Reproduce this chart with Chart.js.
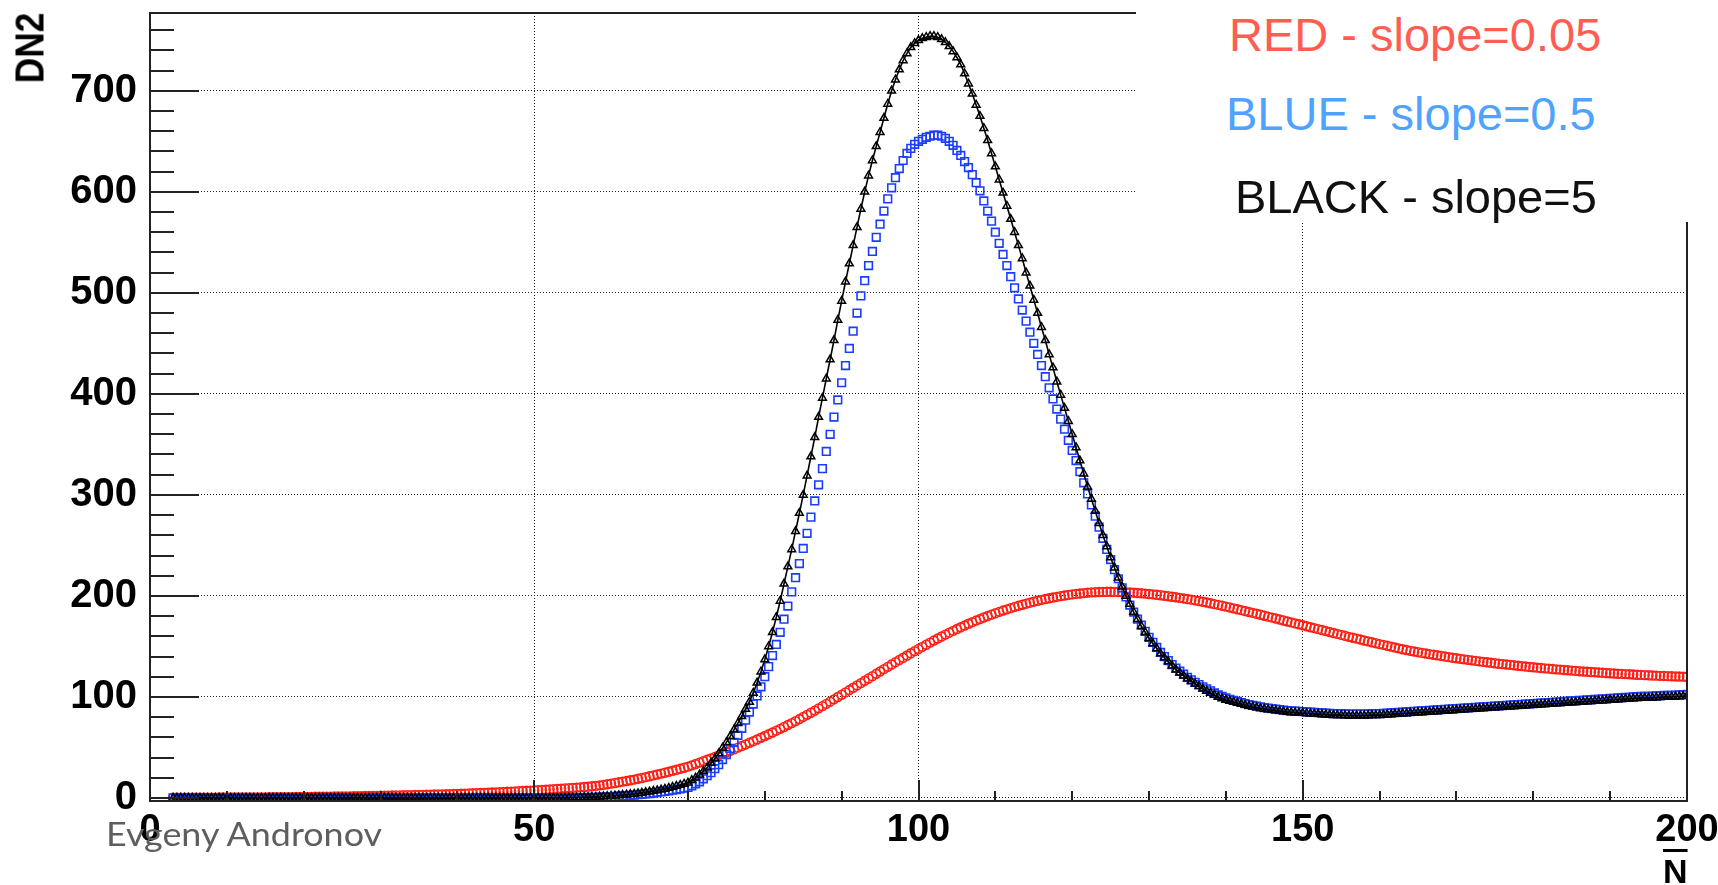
<!DOCTYPE html>
<html>
<head>
<meta charset="utf-8">
<title>DN2 vs N</title>
<script src="https://cdn.jsdelivr.net/npm/chart.js@4.4.1/dist/chart.umd.min.js"></script>
<style>
  html, body { margin: 0; padding: 0; background: #fff; }
  #wrap { position: relative; width: 1718px; height: 885px; overflow: hidden; }
  #chart { position: absolute; left: 0; top: 0; }
  .txt { position: absolute; white-space: nowrap; line-height: 1; font-family: 'Liberation Sans', Arial, sans-serif; }
  #yTitle { left: 30px; top: 47.5px; font-size: 41px; font-weight: bold; color: #000;
            transform: translate(-50%, -50%) rotate(-90deg) scaleX(0.86); }
  #xTitle { font-size: 34px; font-weight: bold; color: #000;
            text-decoration: overline; text-decoration-thickness: 3px; }
  #author { font-family: 'Lato', 'Open Sans', sans-serif; font-weight: 400; font-size: 32px; color: #5e5e5e; }
  #legendBox { position: absolute; left: 1136px; top: 0; width: 582px; height: 222px; background: #fff; }
  .leg { font-size: 47px; }
</style>
</head>
<body>
<div id="wrap">
  <canvas id="chart" width="1718" height="885"></canvas>
  <div id="yTitle" class="txt">DN2</div>
  <div id="xTitle" class="txt">N</div>
  <div id="author" class="txt">Evgeny Andronov</div>
  <div id="legendBox">
    <div id="legRed" class="txt leg" style="color:#ff5c52">RED - slope=0.05</div>
    <div id="legBlue" class="txt leg" style="color:#4fa3ff">BLUE - slope=0.5</div>
    <div id="legBlack" class="txt leg" style="color:#111">BLACK - slope=5</div>
  </div>
</div>
<script>
// N values, one row per 5 units
const nValues = [
  3, 3.5, 4, 4.5, 5, 5.5, 6, 6.5, 7, 7.5,
  8, 8.5, 9, 9.5, 10, 10.5, 11, 11.5, 12, 12.5,
  13, 13.5, 14, 14.5, 15, 15.5, 16, 16.5, 17, 17.5,
  18, 18.5, 19, 19.5, 20, 20.5, 21, 21.5, 22, 22.5,
  23, 23.5, 24, 24.5, 25, 25.5, 26, 26.5, 27, 27.5,
  28, 28.5, 29, 29.5, 30, 30.5, 31, 31.5, 32, 32.5,
  33, 33.5, 34, 34.5, 35, 35.5, 36, 36.5, 37, 37.5,
  38, 38.5, 39, 39.5, 40, 40.5, 41, 41.5, 42, 42.5,
  43, 43.5, 44, 44.5, 45, 45.5, 46, 46.5, 47, 47.5,
  48, 48.5, 49, 49.5, 50, 50.5, 51, 51.5, 52, 52.5,
  53, 53.5, 54, 54.5, 55, 55.5, 56, 56.5, 57, 57.5,
  58, 58.5, 59, 59.5, 60, 60.5, 61, 61.5, 62, 62.5,
  63, 63.5, 64, 64.5, 65, 65.5, 66, 66.5, 67, 67.5,
  68, 68.5, 69, 69.5, 70, 70.5, 71, 71.5, 72, 72.5,
  73, 73.5, 74, 74.5, 75, 75.5, 76, 76.5, 77, 77.5,
  78, 78.5, 79, 79.5, 80, 80.5, 81, 81.5, 82, 82.5,
  83, 83.5, 84, 84.5, 85, 85.5, 86, 86.5, 87, 87.5,
  88, 88.5, 89, 89.5, 90, 90.5, 91, 91.5, 92, 92.5,
  93, 93.5, 94, 94.5, 95, 95.5, 96, 96.5, 97, 97.5,
  98, 98.5, 99, 99.5, 100, 100.5, 101, 101.5, 102, 102.5,
  103, 103.5, 104, 104.5, 105, 105.5, 106, 106.5, 107, 107.5,
  108, 108.5, 109, 109.5, 110, 110.5, 111, 111.5, 112, 112.5,
  113, 113.5, 114, 114.5, 115, 115.5, 116, 116.5, 117, 117.5,
  118, 118.5, 119, 119.5, 120, 120.5, 121, 121.5, 122, 122.5,
  123, 123.5, 124, 124.5, 125, 125.5, 126, 126.5, 127, 127.5,
  128, 128.5, 129, 129.5, 130, 130.5, 131, 131.5, 132, 132.5,
  133, 133.5, 134, 134.5, 135, 135.5, 136, 136.5, 137, 137.5,
  138, 138.5, 139, 139.5, 140, 140.5, 141, 141.5, 142, 142.5,
  143, 143.5, 144, 144.5, 145, 145.5, 146, 146.5, 147, 147.5,
  148, 148.5, 149, 149.5, 150, 150.5, 151, 151.5, 152, 152.5,
  153, 153.5, 154, 154.5, 155, 155.5, 156, 156.5, 157, 157.5,
  158, 158.5, 159, 159.5, 160, 160.5, 161, 161.5, 162, 162.5,
  163, 163.5, 164, 164.5, 165, 165.5, 166, 166.5, 167, 167.5,
  168, 168.5, 169, 169.5, 170, 170.5, 171, 171.5, 172, 172.5,
  173, 173.5, 174, 174.5, 175, 175.5, 176, 176.5, 177, 177.5,
  178, 178.5, 179, 179.5, 180, 180.5, 181, 181.5, 182, 182.5,
  183, 183.5, 184, 184.5, 185, 185.5, 186, 186.5, 187, 187.5,
  188, 188.5, 189, 189.5, 190, 190.5, 191, 191.5, 192, 192.5,
  193, 193.5, 194, 194.5, 195, 195.5, 196, 196.5, 197, 197.5,
  198, 198.5, 199, 199.5, 200
];

// RED - slope=0.05
const redValues = [
  0.2, 0.2, 0.2, 0.22, 0.25, 0.28, 0.3, 0.3, 0.3, 0.33,
  0.35, 0.38, 0.4, 0.4, 0.4, 0.43, 0.45, 0.48, 0.5, 0.5,
  0.5, 0.53, 0.55, 0.58, 0.6, 0.65, 0.7, 0.73, 0.75, 0.78,
  0.8, 0.85, 0.9, 0.95, 1.0, 1.05, 1.1, 1.15, 1.2, 1.25,
  1.3, 1.35, 1.4, 1.45, 1.5, 1.55, 1.6, 1.68, 1.75, 1.82,
  1.9, 1.98, 2.05, 2.12, 2.2, 2.28, 2.35, 2.42, 2.5, 2.58,
  2.65, 2.72, 2.8, 2.9, 3.0, 3.1, 3.2, 3.3, 3.4, 3.5,
  3.6, 3.7, 3.8, 3.9, 4.0, 4.15, 4.3, 4.45, 4.6, 4.75,
  4.9, 5.05, 5.2, 5.35, 5.5, 5.7, 5.9, 6.1, 6.3, 6.5,
  6.7, 6.9, 7.1, 7.3, 7.5, 7.75, 8.0, 8.25, 8.5, 8.75,
  9.0, 9.25, 9.5, 9.75, 10.0, 10.25, 10.5, 10.85, 11.2, 11.6,
  12.0, 12.5, 13.0, 13.6, 14.2, 14.85, 15.5, 16.15, 16.8, 17.5,
  18.2, 19.0, 19.8, 20.65, 21.5, 22.35, 23.2, 24.1, 25.0, 25.95,
  26.9, 27.9, 28.9, 29.95, 31, 32.3, 33.6, 35, 36.4, 37.8,
  39.2, 40.7, 42.2, 43.7, 45.2, 46.7, 48.2, 49.8, 51.4, 53,
  54.6, 56.2, 57.9, 59.6, 61.3, 63, 64.8, 66.6, 68.4, 70.3,
  72.2, 74.1, 76.1, 78.1, 80.2, 82.3, 84.4, 86.5, 88.7, 90.9,
  93.1, 95.3, 97.6, 99.9, 102.2, 104.5, 106.8, 109.1, 111.4, 113.7,
  116, 118.3, 120.6, 122.9, 125.2, 127.5, 129.8, 132.1, 134.4, 136.6,
  138.8, 141, 143.2, 145.4, 147.5, 149.6, 151.7, 153.8, 155.8, 157.8,
  159.8, 161.7, 163.6, 165.4, 167.2, 169, 170.7, 172.4, 174, 175.6,
  177.1, 178.6, 180.1, 181.5, 182.9, 184.2, 185.5, 186.7, 187.9, 189.1,
  190.2, 191.3, 192.3, 193.3, 194.3, 195.2, 196.1, 196.9, 197.7, 198.4,
  199.1, 199.8, 200.4, 201, 201.5, 202, 202.4, 202.8, 203.2, 203.5,
  203.7, 203.9, 204, 204.1, 204.1, 204, 203.9, 203.7, 203.5, 203.4,
  203.2, 202.9, 202.6, 202.3, 201.9, 201.5, 201.1, 200.7, 200.2, 199.7,
  199.2, 198.7, 198.1, 197.5, 196.9, 196.3, 195.6, 194.9, 194.2, 193.5,
  192.7, 191.9, 191.1, 190.3, 189.4, 188.6, 187.7, 186.8, 185.9, 185,
  184.1, 183.2, 182.3, 181.4, 180.4, 179.5, 178.5, 177.6, 176.6, 175.7,
  174.7, 173.8, 172.8, 171.9, 170.9, 170, 169, 168.1, 167.1, 166.2,
  165.2, 164.3, 163.3, 162.4, 161.4, 160.5, 159.5, 158.6, 157.7, 156.8,
  155.9, 155, 154.1, 153.2, 152.3, 151.5, 150.6, 149.8, 148.9, 148.1,
  147.2, 146.4, 145.6, 145, 144.3, 143.6, 143, 142.4, 141.8, 141.2,
  140.6, 140, 139.4, 138.8, 138.3, 137.7, 137.2, 136.7, 136.2, 135.7,
  135.2, 134.7, 134.3, 133.8, 133.4, 132.9, 132.5, 132.1, 131.7, 131.3,
  130.9, 130.5, 130.1, 129.7, 129.4, 129, 128.7, 128.3, 128, 127.6,
  127.3, 127, 126.7, 126.4, 126.1, 125.8, 125.5, 125.2, 125, 124.7,
  124.5, 124.2, 124, 123.7, 123.5, 123.2, 123, 122.8, 122.6, 122.4,
  122.2, 122, 121.8, 121.6, 121.4, 121.2, 121.1, 120.9, 120.8, 120.6,
  120.5, 120.3, 120.2, 120.1, 120
];

// BLUE - slope=0.5
const blueValues = [
  0, 0, 0, 0, 0, 0, 0, 0, 0, 0,
  0, 0, 0, 0, 0, 0, 0, 0, 0, 0,
  0, 0, 0, 0, 0, 0, 0, 0, 0, 0,
  0, 0, 0, 0, 0, 0, 0, 0, 0, 0,
  0, 0, 0, 0, 0, 0, 0, 0, 0, 0,
  0, 0, 0, 0, 0, 0, 0, 0, 0, 0,
  0, 0, 0, 0, 0, 0, 0, 0, 0, 0,
  0, 0, 0, 0, 0, 0, 0, 0, 0, 0,
  0, 0, 0, 0, 0, 0, 0, 0, 0, 0,
  0, 0, 0, 0, 0, 0, 0, 0, 0, 0,
  0, 0, 0, 0, 0, 0.15, 0.3, 0.4, 0.5, 0.6,
  0.7, 0.85, 1.0, 1.15, 1.3, 1.55, 1.8, 2.05, 2.3, 2.6,
  2.9, 3.25, 3.6, 4.0, 4.4, 4.9, 5.4, 5.95, 6.5, 7.1,
  7.7, 8.35, 9.0, 9.75, 10.5, 12, 14, 16, 19, 22,
  25, 29, 33, 38, 43, 49, 55, 62, 69, 77,
  85, 93, 101, 110, 120, 130, 141, 152, 164, 177,
  190, 204, 218, 232, 247, 262, 278, 294, 310, 326,
  343, 360, 377, 394, 411, 428, 445, 462, 480, 497,
  512, 527, 541, 555, 568, 581, 593, 604, 614, 623,
  631, 638, 643, 647, 650, 652, 654, 655, 656, 656,
  655, 653, 650, 646, 641, 636, 630, 624, 617, 609,
  601, 591, 581, 571, 560, 549, 538, 527, 516, 505,
  494, 483, 472, 461, 450, 439, 428, 417, 406, 395,
  385, 375, 365, 354, 344, 334, 323, 312, 301, 290,
  279, 268, 257, 246, 236, 226, 217, 208, 199, 191,
  184, 177, 171, 165, 159, 154, 149, 144, 140, 136,
  132, 128.5, 125.5, 122.5, 119.5, 117, 114.5, 112.2, 110, 108,
  106, 104, 102, 100.5, 99, 97.7, 96.5, 95.5, 94.5, 93.5,
  92.5, 91.7, 91, 90.2, 89.5, 89, 88.5, 88, 87.5, 87,
  86.5, 86.2, 86, 85.7, 85.5, 85.2, 85, 84.7, 84.5, 84.2,
  84, 83.7, 83.5, 83.5, 83.5, 83.2, 83, 83, 83, 83,
  83, 83.2, 83.5, 83.5, 83.5, 83.7, 84, 84.2, 84.5, 84.7,
  85, 85.2, 85.5, 85.7, 86, 86.2, 86.5, 86.7, 87, 87.2,
  87.5, 87.7, 88, 88.2, 88.5, 88.7, 89, 89.2, 89.5, 89.7,
  90, 90.2, 90.5, 90.7, 91, 91.2, 91.5, 91.7, 92, 92.2,
  92.5, 92.7, 93, 93.2, 93.5, 93.7, 94, 94.2, 94.5, 94.7,
  95, 95.2, 95.5, 95.7, 96, 96.2, 96.5, 96.7, 97, 97.2,
  97.5, 97.7, 98, 98.2, 98.5, 98.7, 99, 99.2, 99.5, 99.7,
  100, 100.2, 100.5, 100.5, 100.5, 100.7, 101, 101.2, 101.5, 101.5,
  101.5, 101.7, 102, 102.2, 102.5
];

// BLACK - slope=5
const blackValues = [
  0, 0, 0, 0, 0, 0, 0, 0, 0, 0,
  0, 0, 0, 0, 0, 0, 0, 0, 0, 0,
  0, 0, 0, 0, 0, 0, 0, 0, 0, 0,
  0, 0, 0, 0, 0, 0, 0, 0, 0, 0,
  0, 0, 0, 0, 0, 0, 0, 0, 0, 0,
  0, 0, 0, 0, 0, 0, 0, 0, 0, 0,
  0, 0, 0, 0, 0, 0, 0, 0, 0, 0,
  0, 0, 0, 0, 0, 0, 0, 0, 0, 0,
  0, 0, 0, 0, 0, 0, 0, 0, 0, 0,
  0, 0, 0, 0, 0, 0, 0, 0, 0, 0,
  0, 0, 0, 0.15, 0.3, 0.4, 0.5, 0.6, 0.7, 0.85,
  1.0, 1.2, 1.4, 1.65, 1.9, 2.2, 2.5, 2.85, 3.2, 3.6,
  4.0, 4.5, 5.0, 5.6, 6.2, 6.85, 7.5, 8.25, 9.0, 9.9,
  10.8, 11.8, 12.8, 13.9, 15, 17.5, 20, 23, 26.5, 30,
  34.5, 39, 44, 49.5, 55, 61, 67.5, 74, 81, 88,
  95, 104, 114, 125, 137, 150, 164, 179, 195, 212,
  229, 246, 264, 282, 300, 319, 338, 357, 377, 396,
  415, 434, 453, 473, 492, 511, 529, 547, 565, 583,
  600, 616, 631, 645, 659, 673, 687, 700, 711, 721,
  730, 737, 743, 747, 750, 752, 753, 754, 754, 753,
  751, 748, 744, 739, 733, 726, 717, 707, 697, 686,
  675, 663, 651, 638, 625, 612, 599, 586, 573, 560,
  547, 534, 520, 507, 493, 480, 466, 453, 439, 426,
  412, 399, 386, 373, 360, 347, 334, 321, 308, 296,
  284, 272, 260, 249, 238, 228, 218, 209, 200, 192,
  184, 177, 170, 164, 158, 153, 148, 143, 139, 135,
  131, 127, 124, 121, 118, 115.5, 113, 110.5, 108, 106,
  104, 102, 100, 98.5, 97, 96, 95, 94, 93, 92,
  91, 90.2, 89.5, 88.7, 88, 87.5, 87, 86.5, 86, 85.5,
  85, 84.7, 84.5, 84.2, 84, 83.7, 83.5, 83.2, 83, 82.7,
  82.5, 82.2, 82, 82, 82, 81.7, 81.5, 81.5, 81.5, 81.5,
  81.5, 81.7, 82, 82, 82, 82.2, 82.5, 82.7, 83, 83.2,
  83.5, 83.7, 84, 84.2, 84.5, 84.7, 85, 85.2, 85.5, 85.7,
  86, 86.2, 86.5, 86.7, 87, 87.2, 87.5, 87.7, 88, 88.2,
  88.5, 88.7, 89, 89.2, 89.5, 89.7, 90, 90.2, 90.5, 90.7,
  91, 91.2, 91.5, 91.7, 92, 92.2, 92.5, 92.7, 93, 93.2,
  93.5, 93.7, 94, 94.2, 94.5, 94.7, 95, 95.2, 95.5, 95.7,
  96, 96.2, 96.5, 96.7, 97, 97.2, 97.5, 97.7, 98, 98.2,
  98.5, 98.7, 99, 99, 99, 99.2, 99.5, 99.7, 100, 100,
  100, 100.2, 100.5, 100.7, 101
];

// Axis ticks
const xTickValues = [0, 50, 100, 150, 200];
const yTickValues = [0, 100, 200, 300, 400, 500, 600, 700];
const xMinorStep = 10;
const yMinorStep = 20;

const toPoints = vals => nValues.map((n, i) => ({ x: n, y: vals[i] }));

// Ticks pointing inward and the frame, ROOT style
const rootFrame = {
    id: 'rootFrame',
    afterDatasetsDraw(chart) {
        const { ctx, chartArea: a, scales: { x, y } } = chart;
        ctx.save();
        ctx.strokeStyle = '#222';
        ctx.lineWidth = 2;
        ctx.beginPath();
        for (let v = x.min; v <= x.max; v += xMinorStep) {
            const px = Math.round(x.getPixelForValue(v));
            const len = xTickValues.includes(v) ? 21 : 10;
            ctx.moveTo(px, a.bottom);
            ctx.lineTo(px, a.bottom - len);
        }
        for (let v = 0; v <= y.max; v += yMinorStep) {
            const py = Math.round(y.getPixelForValue(v));
            const len = yTickValues.includes(v) ? 49 : 24;
            ctx.moveTo(a.left, py);
            ctx.lineTo(a.left + len, py);
        }
        ctx.stroke();
        ctx.strokeRect(a.left, a.top, a.right - a.left, a.bottom - a.top);
        ctx.restore();
    }
};

Chart.defaults.font.family = "'Liberation Sans', Arial, sans-serif";

new Chart(document.getElementById('chart'), {
    type: 'scatter',
    data: {
        datasets: [
            {
                label: 'BLACK - slope=5',
                data: toPoints(blackValues),
                showLine: true,
                borderColor: '#000',
                borderWidth: 1.6,
                pointStyle: 'triangle',
                pointRadius: 4.5,
                pointBorderWidth: 1.5,
                pointBackgroundColor: 'rgba(0,0,0,0)'
            },
            {
                label: 'BLUE - slope=0.5',
                data: toPoints(blueValues),
                showLine: false,
                borderColor: '#1a3cff',
                pointStyle: 'rect',
                pointRadius: 5.4,
                pointBorderWidth: 1.6,
                pointBackgroundColor: 'rgba(0,0,0,0)'
            },
            {
                label: 'RED - slope=0.05',
                data: toPoints(redValues),
                showLine: false,
                borderColor: '#ff1e14',
                pointStyle: 'circle',
                pointRadius: 4.4,
                pointBorderWidth: 1.6,
                pointBackgroundColor: 'rgba(0,0,0,0)'
            }
        ]
    },
    options: {
        responsive: false,
        animation: false,
        devicePixelRatio: 1,
        layout: { padding: { left: 0, top: 13, right: 31, bottom: 0 } },
        plugins: {
            legend: { display: false },
            tooltip: { enabled: false }
        },
        scales: {
            x: {
                type: 'linear',
                min: 0,
                max: 200,
                afterBuildTicks: s => { s.ticks = xTickValues.map(v => ({ value: v })); },
                afterFit: s => { s.height = 84; s.paddingLeft = 0; s.paddingRight = 0; },
                grid: { color: '#222', lineWidth: 1, drawTicks: false },
                border: { display: false, dash: [1, 2] },
                ticks: {
                    color: '#000',
                    padding: 7,
                    maxRotation: 0,
                    autoSkip: false,
                    font: { size: 38, weight: 'bold' }
                }
            },
            y: {
                type: 'linear',
                min: -3,
                max: 777,
                afterBuildTicks: s => { s.ticks = yTickValues.map(v => ({ value: v })); },
                afterFit: s => { s.width = 150; s.paddingTop = 0; s.paddingBottom = 0; },
                grid: { color: '#222', lineWidth: 1, drawTicks: false },
                border: { display: false, dash: [1, 2] },
                ticks: {
                    color: '#000',
                    padding: 13,
                    autoSkip: false,
                    font: { size: 40, weight: 'bold' }
                }
            }
        }
    },
    plugins: [rootFrame]
});

// put a text box so that its baseline lands on the given y
function placeText(el, left, baseline) {
    el.style.left = left + 'px';
    el.style.top = '0px';
    const probe = document.createElement('span');
    probe.style.cssText = 'display:inline-block;width:0;height:0;vertical-align:baseline';
    el.appendChild(probe);
    el.style.top = (baseline - probe.offsetTop) + 'px';
    el.removeChild(probe);
}

const xTitle = document.getElementById('xTitle');
placeText(xTitle, 1688 - xTitle.offsetWidth, 883);

const author = document.getElementById('author');
placeText(author, 106, 846);
author.style.transformOrigin = '0 0';
author.style.transform = 'scaleX(' + (276 / author.offsetWidth) + ')';

placeText(document.getElementById('legRed'), 1229 - 1136, 51);
placeText(document.getElementById('legBlue'), 1226 - 1136, 130);
placeText(document.getElementById('legBlack'), 1235 - 1136, 213);
</script>
</body>
</html>
